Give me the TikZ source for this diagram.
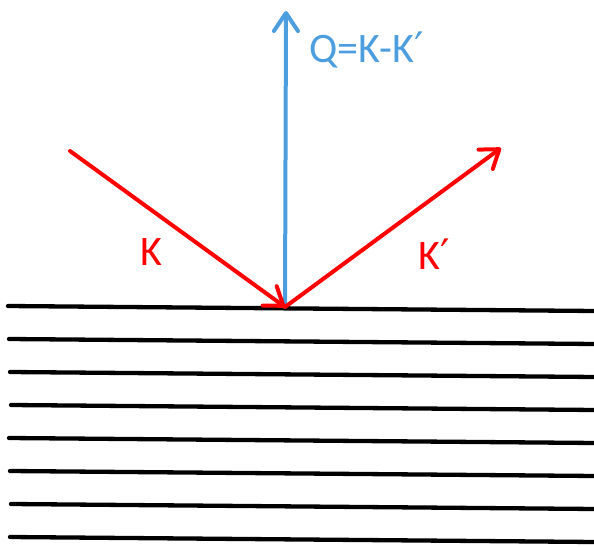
\documentclass[tikz,border=0pt]{standalone}
\usepackage{fontspec}
\setmainfont{Carlito}
\newfontfamily\primefont{DejaVu Sans}
\newcommand{\myprime}{{\primefont\char"2032}}
\usetikzlibrary{arrows.meta}
\definecolor{qblue}{RGB}{76,158,222}
\definecolor{kred}{RGB}{255,0,0}
\tikzset{
  layer/.style={black, line width=4.3pt, line cap=round},
  wave/.style={kred, line width=4pt, line cap=round, -{Straight Barb[length=17pt,width=24pt,line cap=round,line join=round]}},
  qvec/.style={qblue, line width=4pt, line cap=round, -{Straight Barb[length=18pt,width=24pt,line cap=round,line join=round]}},
  lbl/.style={inner sep=0pt, font=\fontsize{42}{48}\selectfont}
}
\begin{document}
\begin{tikzpicture}[x=1pt,y=-1pt]
\useasboundingbox (0,0) rectangle (594,546);
% layers
\foreach \i/\xl in {0/8,1/9,2/10,3/11,4/9,5/10,6/11,7/10} {
  \coordinate (L\i a) at (\xl,306+33*\i);
  \coordinate (L\i b) at (596,311+33*\i);
  \draw[layer] (L\i a) -- (L\i b);
}
\coordinate (O) at (285,307);
\coordinate (Ks) at (70,151);
\coordinate (Ke) at (501,148);
\coordinate (Qe) at (286,11);
\draw[qvec] (O) -- (Qe);
\draw[wave] (Ks) -- (O);
\draw[wave] (O) -- (Ke);
\node[lbl, text=kred] (klbl) at (151,252) {K};
\node[lbl, text=kred, anchor=west] (kplbl) at (418,254) {K\myprime};
\node[lbl, text=qblue, anchor=west] (qlbl) at (309,50) {Q=K-K\myprime};
\end{tikzpicture}
\end{document}
